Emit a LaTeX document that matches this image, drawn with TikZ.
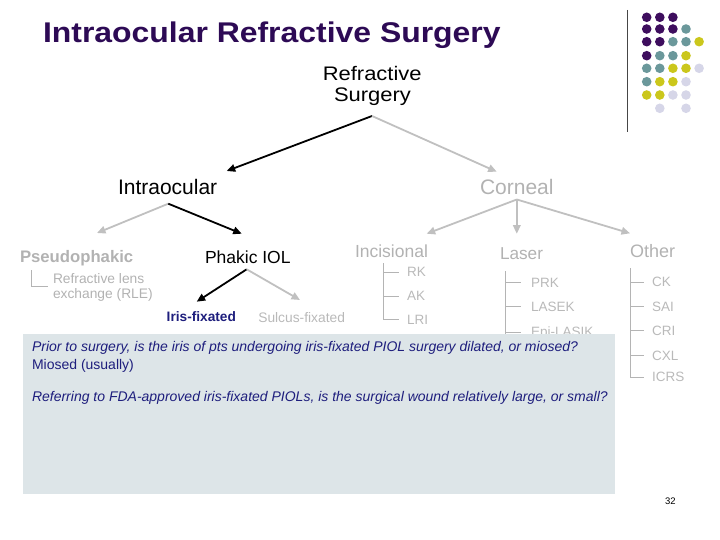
\documentclass[tikz,border=0pt]{standalone}
\usepackage{fontspec}
\setmainfont{Liberation Sans}
\newfontfamily\stretchfont{Liberation Sans}[FakeStretch=1.12]
\usetikzlibrary{arrows.meta}
\definecolor{titlec}{RGB}{45,10,85}
\definecolor{navyc}{RGB}{30,30,125}
\definecolor{lgray}{RGB}{180,180,180}
\definecolor{agray}{RGB}{192,192,192}
\definecolor{tgray}{RGB}{178,178,178}
\definecolor{sgray}{RGB}{185,185,185}
\definecolor{boxc}{RGB}{221,229,232}
\definecolor{dotp}{RGB}{62,14,94}
\definecolor{dott}{RGB}{107,152,155}
\definecolor{doty}{RGB}{203,199,28}
\definecolor{dotl}{RGB}{214,214,232}
\begin{document}
\begin{tikzpicture}[x=1pt,y=-1pt,
  txt/.style={anchor=base west, inner sep=0pt, outer sep=0pt},
  ctxt/.style={anchor=base, inner sep=0pt, outer sep=0pt},
  arr/.style={line width=1.8pt, -{Triangle[length=8.5pt,width=7.5pt]}},
  blackarr/.style={arr, draw=black, fill=black},
  grayarr/.style={arr, draw=agray, fill=agray},
  treeline/.style={draw=lgray, line width=0.8pt},
  small/.style={txt, text=sgray, font=\fontsize{13.5}{16}\selectfont}
]
\useasboundingbox (0,0) rectangle (720,540);

% title
\node[txt, font=\stretchfont\bfseries\fontsize{28.5}{32}\selectfont, text=titlec] (title) at (43,43) {Intraocular Refractive Surgery};

% decoration top right
\draw[line width=1.2pt, draw={rgb,255:red,70;green,70;blue,70}] (627.3,10) -- (627.3,132);
\foreach \yy/\row in {17.3/{dotp,dotp,dotp},29/{dotp,dotp,dotp,dott},41.7/{dotp,dotp,dott,dott,doty},55.7/{dotp,dott,dott,doty},68.3/{dott,dott,doty,doty,dotl},81.7/{dott,doty,doty,dotl},95/{doty,doty,dotl,dotl}}
  \foreach \c [count=\i] in \row { \fill[\c] ({646.7+13.1*(\i-1)},\yy) circle[radius=4.8pt]; }
\fill[dotl] (659.8,108.3) circle[radius=4.8pt];
\fill[dotl] (686,108.3) circle[radius=4.8pt];

% level 0
\node[ctxt, font=\stretchfont\fontsize{19.6}{22}\selectfont] (rs1) at (372.2,80.7) {Refractive};
\node[ctxt, font=\stretchfont\fontsize{19.6}{22}\selectfont] (rs2) at (372.5,101.7) {Surgery};
\coordinate (rsb) at (372,116);

% level 1
\node[txt, font=\fontsize{21}{24}\selectfont] (intra) at (118,195) {Intraocular};
\node[txt, font=\fontsize{21}{24}\selectfont, text=tgray] (corn) at (480,195) {Corneal};
\coordinate (intraT) at (226.7,171);
\coordinate (cornT) at (496.7,171.7);
\draw[blackarr] (rsb) -- (intraT);
\draw[grayarr] (rsb) -- (cornT);

% level 2
\node[txt, font=\bfseries\fontsize{16.7}{20}\selectfont, text=tgray] (pseudo) at (20,262) {Pseudophakic};
\node[txt, font=\fontsize{17.5}{20}\selectfont] (phakic) at (205,263) {Phakic IOL};
\node[txt, font=\fontsize{17.5}{20}\selectfont, text=tgray] (incis) at (355,258) {Incisional};
\node[txt, font=\fontsize{17.2}{20}\selectfont, text=tgray] (laser) at (500,259) {Laser};
\node[txt, font=\fontsize{18}{20}\selectfont, text=tgray] (other) at (630,258) {Other};

\coordinate (intraB) at (168.3,203.7);
\coordinate (pseudoT) at (97,233);
\coordinate (phakicT) at (241.7,233.7);
\draw[grayarr] (intraB) -- (pseudoT);
\draw[blackarr] (intraB) -- (phakicT);

\coordinate (cornB) at (516.8,199.5);
\coordinate (incisT) at (426.7,233.7);
\coordinate (laserT) at (516.8,233.7);
\coordinate (otherT) at (630,233.3);
\draw[grayarr] (cornB) -- (incisT);
\draw[grayarr] (cornB) -- (laserT);
\draw[grayarr] (cornB) -- (otherT);

% pseudophakic sub
\node[txt, text=tgray, font=\fontsize{13.8}{16}\selectfont] (rle1) at (53,283.3) {Refractive lens};
\node[txt, text=tgray, font=\fontsize{13.8}{16}\selectfont] (rle2) at (53,298.3) {exchange (RLE)};
\coordinate (pseTr) at (31,270);
\coordinate (pseBr) at (48,286);
\draw[treeline] (pseTr) |- (pseBr);

% phakic sub
\node[txt, text=navyc, font=\bfseries\fontsize{13.7}{16}\selectfont] (iris) at (166.7,321.7) {Iris-fixated};
\node[txt, text=sgray, font=\fontsize{13.8}{16}\selectfont] (sulcus) at (258.3,322) {Sulcus-fixated};
\coordinate (phakicB) at (246.7,269.3);
\coordinate (irisT) at (196.7,301.7);
\coordinate (sulcusT) at (300,300);
\draw[blackarr] (phakicB) -- (irisT);
\draw[grayarr] (phakicB) -- (sulcusT);

% incisional sub
\node[small] (rk) at (407,276.7) {RK};
\node[small] (ak) at (407,300.7) {AK};
\node[small] (lri) at (407,324) {LRI};
\coordinate (incTr) at (383.3,263);
\draw[treeline] (incTr) |- ([xshift=-8pt]lri.west);
\draw[treeline] (incTr |- rk.west) -- ([xshift=-8pt]rk.west);
\draw[treeline] (incTr |- ak.west) -- ([xshift=-8pt]ak.west);

% laser sub
\node[small] (prk) at (531,287) {PRK};
\node[small] (lasek) at (531,311.5) {LASEK};
\node[small] (epi) at (531,336) {Epi-LASIK};
\coordinate (lasTr) at (505,271);
\coordinate (lasBot) at (505,340);
\draw[treeline] (lasTr) -- (lasBot);
\draw[treeline] (lasTr |- prk.west) -- ([xshift=-10pt]prk.west);
\draw[treeline] (lasTr |- lasek.west) -- ([xshift=-10pt]lasek.west);
\draw[treeline] (lasTr |- epi.west) -- ([xshift=-10pt]epi.west);

% other sub
\node[small] (ck) at (652,286.7) {CK};
\node[small] (sai) at (652,311) {SAI};
\node[small] (cri) at (652,335) {CRI};
\node[small] (cxl) at (652,360) {CXL};
\node[small] (icrs) at (652,381.7) {ICRS};
\coordinate (othTr) at (630,268.3);
\draw[treeline] (othTr) |- ([xshift=-8pt]icrs.west);
\draw[treeline] (othTr |- ck.west) -- ([xshift=-8pt]ck.west);
\draw[treeline] (othTr |- sai.west) -- ([xshift=-8pt]sai.west);
\draw[treeline] (othTr |- cri.west) -- ([xshift=-8pt]cri.west);
\draw[treeline] (othTr |- cxl.west) -- ([xshift=-8pt]cxl.west);

% question box
\fill[boxc] (23,334) rectangle (615,494);
\node[txt, text=navyc, font=\itshape\fontsize{14}{16}\selectfont] (q1) at (32,351.7) {Prior to surgery, is the iris of pts undergoing iris-fixated PIOL surgery dilated, or miosed?};
\node[txt, text=navyc, font=\fontsize{14}{16}\selectfont] (a1) at (32,369) {Miosed (usually)};
\node[txt, text=navyc, font=\itshape\fontsize{14}{16}\selectfont] (q2) at (32,401.7) {Referring to FDA-approved iris-fixated PIOLs, is the surgical wound relatively large, or small?};

% page number
\node[txt, font=\fontsize{9.5}{11}\selectfont] (pg) at (665,504) {32};
\end{tikzpicture}
\end{document}
